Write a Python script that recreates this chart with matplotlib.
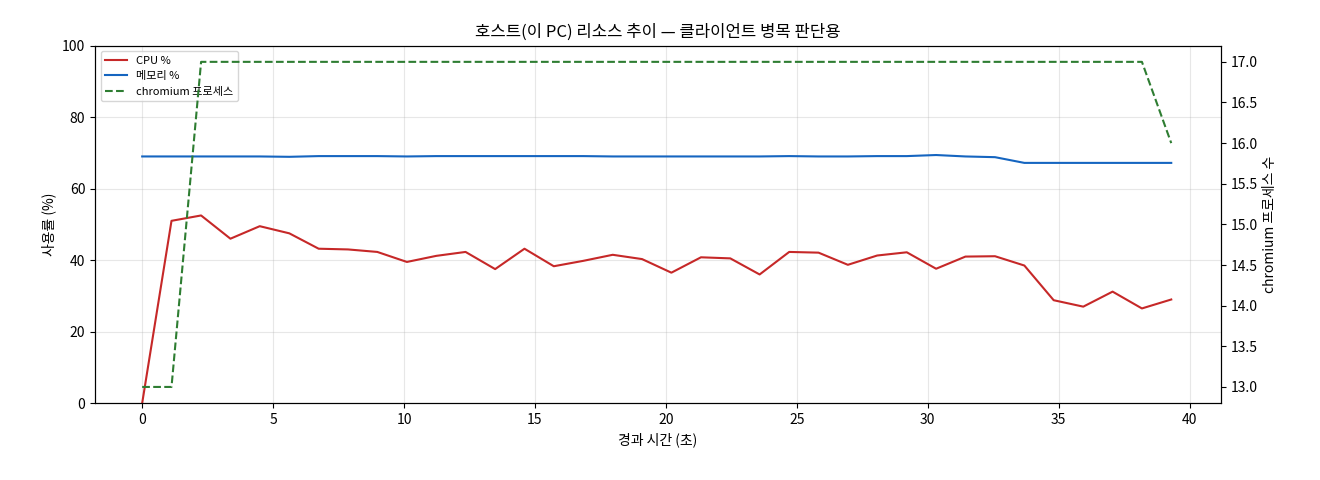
import matplotlib
matplotlib.use("Agg")
import matplotlib.pyplot as plt
import numpy as np

plt.rcParams['font.family'] = ['Noto Sans CJK KR', 'DejaVu Sans']

n = 36
t = [round(i * 1.123, 2) for i in range(n)]
cpu = [0, 51, 52.5, 46, 49.5, 47.5, 43.2, 43, 42.3, 39.5, 41.2, 42.3, 37.5, 43.2, 38.3, 39.8,
       41.5, 40.3, 36.5, 40.8, 40.5, 36, 42.3, 42.1, 38.7, 41.3, 42.2, 37.6, 41, 41.1, 38.5,
       28.8, 27, 31.2, 26.5, 29]
mem = [69, 69, 69, 69, 69, 68.9, 69.1, 69.1, 69.1, 69, 69.1, 69.1, 69.1, 69.1, 69.1, 69.1,
       69, 69, 69, 69, 69, 69, 69.1, 69, 69, 69.1, 69.1, 69.4, 69, 68.8, 67.2,
       67.2, 67.2, 67.2, 67.2, 67.2]
chrom = [13, 13] + [17] * 32 + [17, 16]

fig, ax = plt.subplots(figsize=(13.2, 4.8), dpi=100)
l1, = ax.plot(t, cpu, color='#c62828', lw=1.5, label='CPU %')
l2, = ax.plot(t, mem, color='#1565c0', lw=1.5, label='메모리 %')
ax.set_ylim(0, 100)
ax.set_xlim(-1.8, 41.2)
ax.set_ylabel('사용률 (%)')
ax.set_xlabel('경과 시간 (초)')
ax.grid(alpha=0.3)
ax2 = ax.twinx()
l3, = ax2.plot(t, chrom, color='#2e7d32', lw=1.5, ls='--', label='chromium 프로세스')
ax2.set_ylim(12.8, 17.2)
ax2.set_ylabel('chromium 프로세스 수')
ax.legend(handles=[l1, l2, l3], loc='upper left', fontsize=8)
ax.set_title('호스트(이 PC) 리소스 추이 — 클라이언트 병목 판단용')
fig.subplots_adjust(left=0.072, right=0.925, top=0.905, bottom=0.16)
fig.savefig('out.png')
